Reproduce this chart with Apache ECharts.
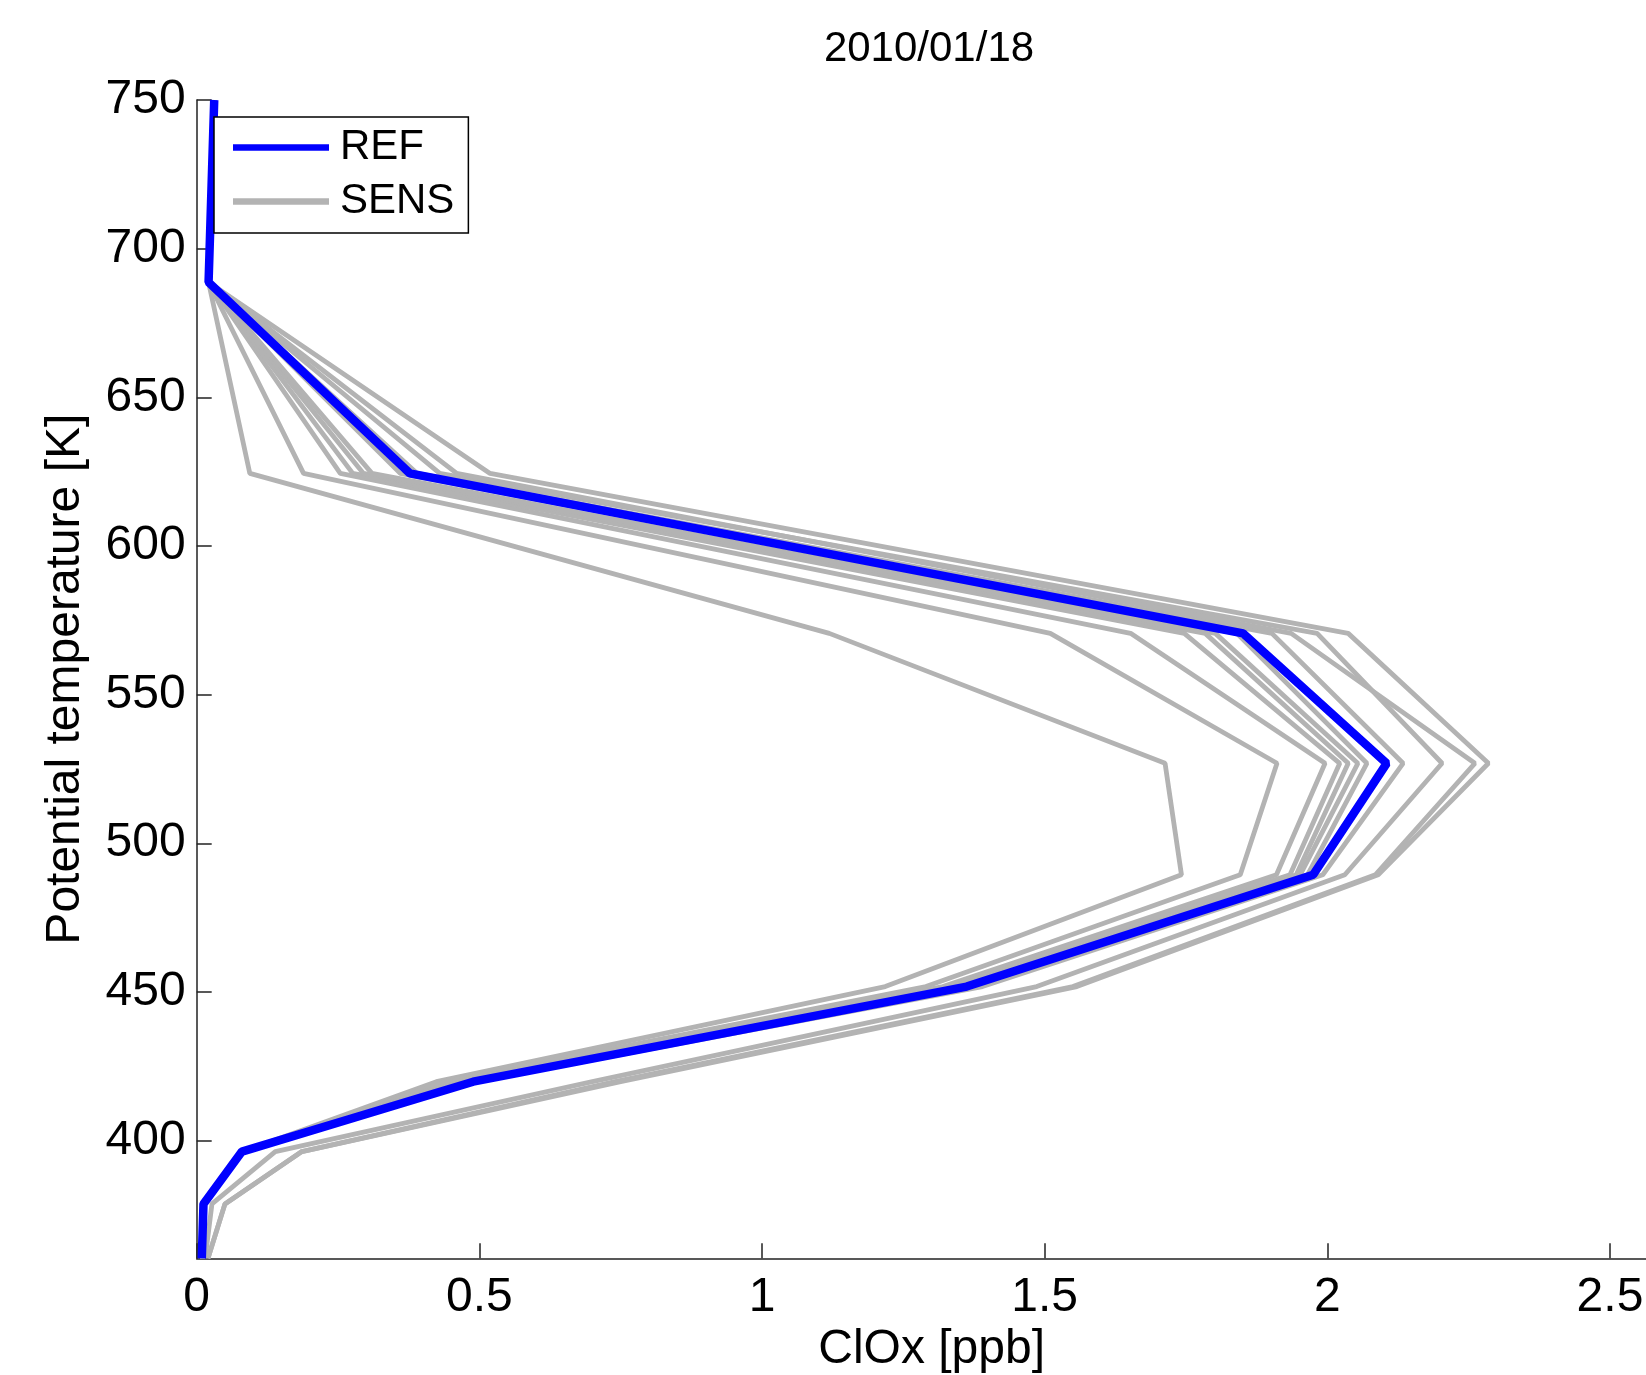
<!DOCTYPE html>
<html>
<head>
<meta charset="utf-8">
<script src="https://cdn.jsdelivr.net/npm/echarts@6/dist/echarts.min.js"></script>
<style>
html,body{margin:0;padding:0;background:#fff;}
#c{width:1646px;height:1375px;}
</style>
</head>
<body>
<div id="c"></div>
<script>
// Potential temperature levels [K]
const levels = [750, 688.7, 624.4, 570.6, 526.9, 489.4, 451.8, 419.8, 396.3, 378.7, 360.4];
// ClOx [ppb] for reference run
const refValues = [0.031, 0.021, 0.377, 1.851, 2.105, 1.975, 1.362, 0.489, 0.080, 0.012, 0.009];
// ClOx [ppb] for sensitivity runs
const sens1  = [0.031, 0.021, 0.094, 1.119, 1.713, 1.742, 1.218, 0.424, 0.082, 0.014, 0.010];
const sens2  = [0.031, 0.021, 0.189, 1.510, 1.911, 1.846, 1.290, 0.440, 0.082, 0.014, 0.010];
const sens3  = [0.031, 0.021, 0.254, 1.652, 1.996, 1.910, 1.320, 0.455, 0.082, 0.014, 0.010];
const sens4  = [0.031, 0.021, 0.276, 1.747, 2.022, 1.934, 1.335, 0.465, 0.082, 0.014, 0.010];
const sens5  = [0.031, 0.021, 0.295, 1.784, 2.037, 1.945, 1.345, 0.475, 0.082, 0.014, 0.010];
const sens6  = [0.031, 0.021, 0.310, 1.802, 2.054, 1.952, 1.355, 0.480, 0.082, 0.014, 0.010];
const sens7  = [0.031, 0.021, 0.360, 1.840, 2.070, 1.965, 1.370, 0.490, 0.082, 0.014, 0.010];
const sens8  = [0.031, 0.021, 0.390, 1.902, 2.134, 1.992, 1.390, 0.495, 0.082, 0.014, 0.010];
const sens9  = [0.031, 0.021, 0.430, 1.982, 2.203, 2.031, 1.486, 0.700, 0.139, 0.027, 0.015];
const sens10 = [0.031, 0.021, 0.460, 1.936, 2.261, 2.085, 1.550, 0.740, 0.186, 0.050, 0.020];
const sens11 = [0.031, 0.021, 0.519, 2.037, 2.285, 2.090, 1.557, 0.750, 0.186, 0.050, 0.020];
// tick labels
const xTicks = [0, 0.5, 1, 1.5, 2, 2.5];
const yTicks = [400, 450, 500, 550, 600, 650, 700, 750];

const sensList = [sens1, sens2, sens3, sens4, sens5, sens6, sens7, sens8, sens9, sens10, sens11];
const toPts = vals => vals.map((v, i) => [v, levels[i]]);
const font = '"Liberation Sans", Arial, Helvetica, sans-serif';

const series = sensList.map(s => ({
  name: 'SENS', type: 'line', data: toPts(s), symbol: 'none',
  lineStyle: { color: '#b3b3b3', width: 4.8 }, itemStyle: { color: '#b3b3b3' }, z: 2
}));
series.push({
  name: 'REF', type: 'line', data: toPts(refValues), symbol: 'none',
  lineStyle: { color: '#0000ff', width: 8.5 }, itemStyle: { color: '#0000ff' }, z: 3
});

const axisLineStyle = { color: '#222', width: 1.5 };

const option = {
  animation: false,
  backgroundColor: '#fff',
  title: {
    text: '2010/01/18', left: 929, top: 28.5, textAlign: 'center', textVerticalAlign: 'top', padding: 0,
    textStyle: { fontFamily: font, fontSize: 42, fontWeight: 'normal', color: '#000' }
  },
  legend: {
    orient: 'vertical', left: 214, top: 117,
    data: ['REF', 'SENS'],
    icon: 'rect', itemWidth: 96, itemHeight: 6.5, itemGap: 12,
    padding: [9.5, 14, 10.5, 19],
    borderColor: '#000', borderWidth: 1.5, backgroundColor: '#fff',
    textStyle: { fontFamily: font, fontSize: 42, color: '#000', padding: [0, 0, 0, 6] },
    selectedMode: false, z: 10
  },
  grid: { left: 196.7, top: 100, width: 1469.8, bottom: 116.7, containLabel: false, outerBoundsMode: 'none' },
  xAxis: {
    type: 'value', min: 0, max: 2.6,
    name: 'ClOx [ppb]', nameLocation: 'middle', nameGap: 66,
    nameTextStyle: { fontFamily: font, fontSize: 48, color: '#000' },
    axisLine: { show: true, onZero: false, lineStyle: axisLineStyle },
    axisTick: { show: true, inside: true, length: 15, customValues: xTicks, lineStyle: axisLineStyle },
    axisLabel: { customValues: xTicks, margin: 15, fontFamily: font, fontSize: 48, color: '#000' },
    splitLine: { show: false }
  },
  yAxis: {
    type: 'value', min: 360.4, max: 750,
    name: 'Potential temperature [K]', nameLocation: 'middle', nameGap: 107,
    nameTextStyle: { fontFamily: font, fontSize: 48, color: '#000' },
    axisLine: { show: true, onZero: false, lineStyle: axisLineStyle },
    axisTick: { show: true, inside: true, length: 15, customValues: yTicks, lineStyle: axisLineStyle },
    axisLabel: { customValues: yTicks, margin: 11, fontFamily: font, fontSize: 48, color: '#000' },
    splitLine: { show: false }
  },
  series: series
};

const chart = echarts.init(document.getElementById('c'), null, { renderer: 'canvas' });
chart.setOption(option);
</script>
</body>
</html>
